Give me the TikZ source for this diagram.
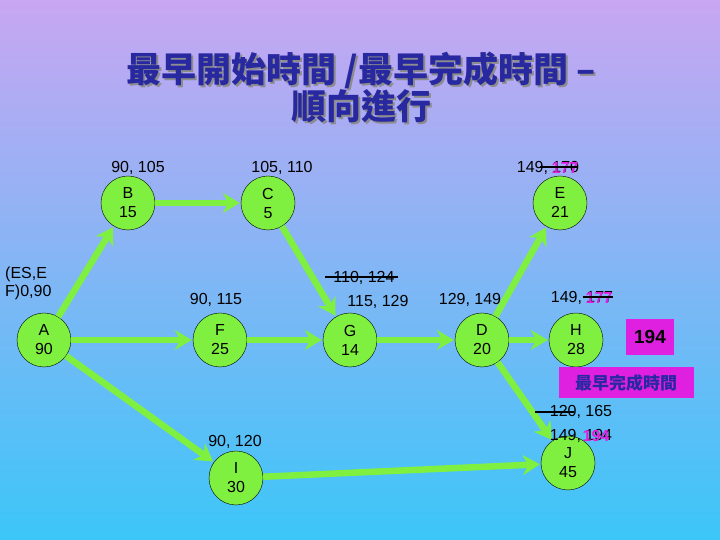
\documentclass[tikz,border=0pt]{standalone}
\usepackage{fontspec}
\setmainfont{Liberation Sans}
\newfontfamily\cjk{Noto Sans CJK TC}
\usetikzlibrary{arrows.meta}
\definecolor{topc}{HTML}{C8A6F2}
\definecolor{botc}{HTML}{3CC6F8}
\definecolor{grn}{HTML}{80F040}
\definecolor{mag}{HTML}{E020E0}
\definecolor{ttl}{HTML}{2828A0}
\begin{document}
\begin{tikzpicture}[x=1pt,y=1pt,
  act/.style={circle,draw=black,fill=grn,minimum size=54pt,inner sep=0pt,align=center,font=\fontsize{16}{19}\selectfont},
  lbl/.style={font=\fontsize{16}{18}\selectfont,inner sep=0pt},
  mg/.style={font=\bfseries\fontsize{16}{18}\selectfont,text=mag,inner sep=0pt},
  ttlf/.style={font=\cjk\bfseries\fontsize{35}{37}\selectfont,align=center},
  edge/.style={grn,line width=6.5pt,-{Stealth[length=17pt,width=20pt]},shorten >=1pt}]
\shade[top color=topc,bottom color=botc] (0,0) rectangle (720,540);
\useasboundingbox (0,0) rectangle (720,540);
% title
\node[ttlf,text=black!45] (tsh) at (363,451) {最早開始時間 /最早完成時間 –\\順向進行};
\node[ttlf,text=ttl] (title) at (361,453) {最早開始時間 /最早完成時間 –\\順向進行};
% nodes
\node[act] (A) at (44,200) {A\\90};
\node[act] (B) at (128,337) {B\\15};
\node[act] (C) at (268,337) {C\\5};
\node[act] (E) at (560,337) {E\\21};
\node[act] (F) at (220,200) {F\\25};
\node[act] (G) at (350,200) {G\\14};
\node[act] (D) at (482,200) {D\\20};
\node[act] (H) at (576,200) {H\\28};
\node[act] (I) at (236,62) {I\\30};
\node[act] (J) at (568,77) {J\\45};
% edges
\draw[edge] (A) -- (B);
\draw[edge] (B) -- (C);
\draw[edge] (C) -- (G);
\draw[edge] (A) -- (F);
\draw[edge] (F) -- (G);
\draw[edge] (G) -- (D);
\draw[edge] (D) -- (E);
\draw[edge] (D) -- (H);
\draw[edge] (D) -- (J);
\draw[edge] (A) -- (I);
\draw[edge] (I) -- (J);
% labels
\node[lbl,align=left,anchor=north west] (la) at (5,273) {(ES,E\\F)0,90};
\node[lbl] (lb) at (138,372) {90, 105};
\node[lbl] (lc) at (282,372) {105, 110};
\node[lbl] (lf) at (216,240) {90, 115};
\node[lbl] (lg1) at (364,262) {110, 124};
\draw[line width=2pt] (325,263) -- (398,263);
\node[lbl] (lg2) at (378,238) {115, 129};
\node[lbl] (ld) at (470,240) {129, 149};
\node[lbl] (le) at (548,372) {149, 170};
\node[mg] (le2) at (565,372) {177};
\draw[line width=2pt] (540,373) -- (578,373);
\node[lbl] (lh) at (582,242) {149, 177};
\node[mg] (lh2) at (599,242) {177};
\draw[line width=2pt] (583,243) -- (613,243);
\node[lbl] (lj1) at (581,128) {120, 165};
\draw[line width=2pt] (535,128) -- (574,128);
\node[lbl] (lj2) at (581,104) {149, 194};
\node[mg] (lj3) at (596,104) {194};
\node[lbl] (li) at (235,98) {90, 120};
% boxes
\node[fill=mag,minimum width=48pt,minimum height=36pt,font=\bfseries\fontsize{19}{22}\selectfont] (tot) at (650,203) {194};
\node[fill=mag,minimum width=135pt,minimum height=31pt,font=\cjk\bfseries\fontsize{17}{19}\selectfont,text=ttl] (ef) at (626,157) {最早完成時間};
\end{tikzpicture}
\end{document}
